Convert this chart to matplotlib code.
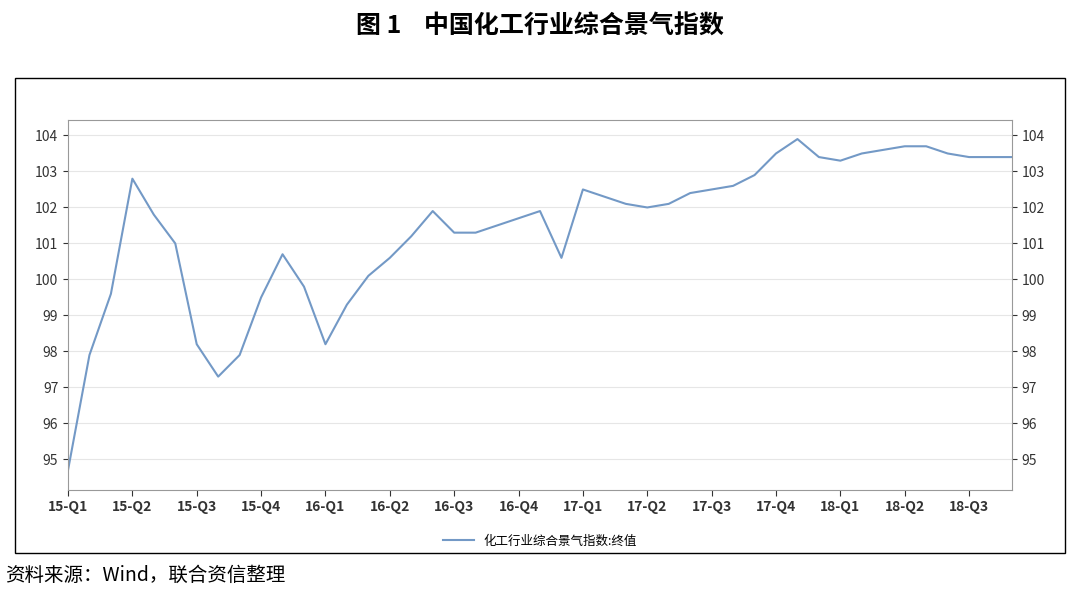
import matplotlib
matplotlib.use("Agg")
import matplotlib.pyplot as plt
from matplotlib.patches import Rectangle

plt.rcParams['font.family'] = ['Noto Sans CJK SC', 'DejaVu Sans']

values = [94.7, 97.9, 99.6, 102.8, 101.8, 101.0, 98.2, 97.3, 97.9, 99.5, 100.7, 99.8,
          98.2, 99.3, 100.1, 100.6, 101.2, 101.9, 101.3, 101.3, 101.5, 101.7, 101.9, 100.6,
          102.5, 102.3, 102.1, 102.0, 102.1, 102.4, 102.5, 102.6, 102.9, 103.5, 103.9, 103.4,
          103.3, 103.5, 103.6, 103.7, 103.7, 103.5, 103.4, 103.4, 103.4]
tick_labels = ['15-Q1', '15-Q2', '15-Q3', '15-Q4', '16-Q1', '16-Q2', '16-Q3', '16-Q4',
               '17-Q1', '17-Q2', '17-Q3', '17-Q4', '18-Q1', '18-Q2', '18-Q3']
yticks = list(range(95, 105))

fig = plt.figure(figsize=(10.8, 5.97), dpi=100)
fig.patches.append(Rectangle((15/1080, 1-553/597), 1050/1080, 475/597, transform=fig.transFigure,
                             fill=False, edgecolor='black', linewidth=1))
ax = fig.add_axes([68/1080, 1-490/597, 944/1080, 370/597])
x = list(range(len(values)))
ax.plot(x, values, color='#7399c6', linewidth=1.5, label='化工行业综合景气指数:终值')
ax.set_xlim(0, len(values) - 1)
ax.set_ylim(94.15, 104.43)
ax.set_yticks(yticks)
ax.set_xticks(range(0, 3*len(tick_labels), 3))
ax.set_xticklabels(tick_labels, fontsize=10, fontweight='bold', color='#333333')
ax.tick_params(axis='y', labelsize=10, labelright=True, right=True, colors='#333333')
ax.tick_params(axis='x', length=4, colors='#333333')
ax.grid(axis='y', color='#e6e6e6', linewidth=0.8)
for s in ax.spines.values():
    s.set_color('#999999')
ax.legend(loc='upper center', bbox_to_anchor=(0.5, -0.09), frameon=False, fontsize=9,
          handlelength=2.5)
fig.text(0.5, 1-27/597, '图 1    中国化工行业综合景气指数', ha='center', va='center',
         fontsize=18, fontweight='bold')
fig.text(5/1080, 1-575/597, '资料来源：Wind，联合资信整理', ha='left', va='center', fontsize=14)
fig.savefig('out.png', dpi=100)
